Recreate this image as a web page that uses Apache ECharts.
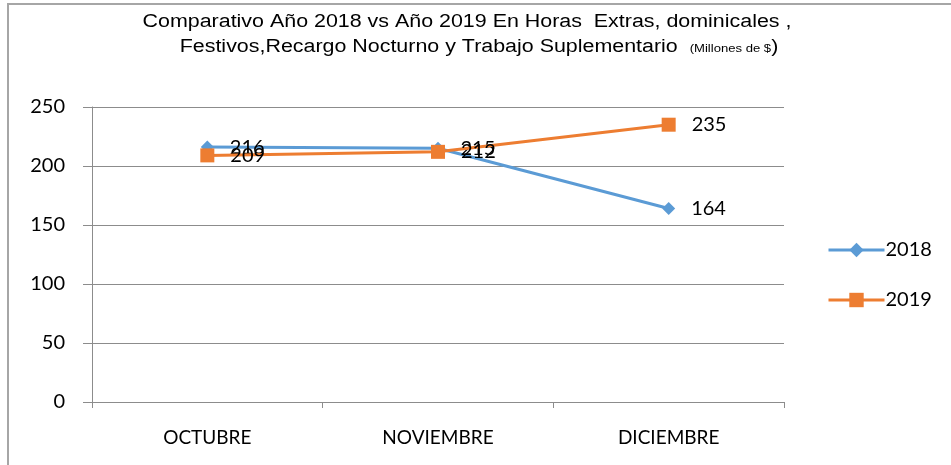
<!DOCTYPE html>
<html>
<head>
<meta charset="utf-8">
<script src="https://cdn.jsdelivr.net/npm/echarts@6/dist/echarts.min.js"></script>
<style>
html, body { margin: 0; padding: 0; background: #fff; }
#chart { width: 951px; height: 465px; }
</style>
</head>
<body>
<div id="chart"></div>
<script>
// data
const months = ['OCTUBRE', 'NOVIEMBRE', 'DICIEMBRE'];
const values2018 = [216, 215, 164];
const values2019 = [209, 212, 235];

const titleLine1 = 'Comparativo Año 2018 vs Año 2019 En Horas  Extras, dominicales ,';
const titleLine2 = 'Festivos,Recargo Nocturno y Trabajo Suplementario  {s|(Millones de $}{b|)}';

const chart = echarts.init(document.getElementById('chart'));

const bodyFont = 'Lato, "Open Sans", sans-serif';
const titleFont = '"Liberation Sans", Arial, sans-serif';

const labelStyle = {
show: true,
position: 'right',
distance: 16,
color: '#000',
fontSize: 20,
fontFamily: bodyFont
};

const option = {
backgroundColor: '#fff',
animation: false,
graphic: [
    {
    type: 'rect',
    shape: { x: 8, y: 4, width: 960, height: 480 },
    style: { fill: 'none', stroke: '#a6a6a6', lineWidth: 2 },
    z: 0
    },
    {
    type: 'text',
    x: 467,
    y: 22,
    scaleX: 1.19,
    style: {
        text: titleLine1,
        x: 0,
        y: 0,
        align: 'center',
        verticalAlign: 'middle',
        fontSize: 18,
        fontFamily: titleFont,
        fill: '#000'
    }
    },
    {
    type: 'text',
    x: 479,
    y: 47,
    scaleX: 1.19,
    style: {
        text: titleLine2,
        x: 0,
        y: 0,
        align: 'center',
        verticalAlign: 'middle',
        fontSize: 18,
        fontFamily: titleFont,
        fill: '#000',
        rich: {
        s: { fontSize: 11, fontFamily: titleFont, fill: '#000', verticalAlign: 'bottom', padding: [0, 0, 2, 0] },
        b: { fontSize: 18, fontFamily: titleFont, fill: '#000' }
        }
    }
    }
],
legend: {
    orient: 'vertical',
    left: 822,
    top: 235,
    itemWidth: 56,
    itemHeight: 18,
    itemGap: 30,
    lineStyle: { width: 3 },
    textStyle: { color: '#000', fontSize: 20, fontFamily: bodyFont, padding: [0, 0, 0, -4] },
    data: ['2018', '2019']
},
grid: { left: 92, right: 167, top: 107, bottom: 63 },
xAxis: {
    type: 'category',
    data: months,
    boundaryGap: true,
    axisLine: { lineStyle: { color: '#8c8c8c', width: 1 } },
    axisTick: { show: true, length: 6, lineStyle: { color: '#8c8c8c' } },
    axisLabel: {
    color: '#000',
    fontSize: 19,
    margin: 26,
    fontFamily: bodyFont
    }
},
yAxis: {
    type: 'value',
    min: 0,
    max: 250,
    interval: 50,
    axisLine: { show: true, lineStyle: { color: '#8c8c8c', width: 1 } },
    axisTick: { show: true, length: 9, lineStyle: { color: '#8c8c8c' } },
    splitLine: { lineStyle: { color: '#8c8c8c', width: 1 } },
    axisLabel: {
    color: '#000',
    fontSize: 20,
    margin: 27,
    fontFamily: bodyFont
    }
},
series: [
    {
    name: '2018',
    type: 'line',
    data: values2018,
    symbol: 'diamond',
    symbolSize: 13,
    lineStyle: { color: '#5b9bd5', width: 3 },
    itemStyle: { color: '#5b9bd5' },
    label: labelStyle,
    z: 2
    },
    {
    name: '2019',
    type: 'line',
    data: values2019,
    symbol: 'rect',
    symbolSize: 14,
    lineStyle: { color: '#ed7d31', width: 3 },
    itemStyle: { color: '#ed7d31' },
    label: labelStyle,
    z: 3
    }
]
};

chart.setOption(option);
</script>
</body>
</html>
